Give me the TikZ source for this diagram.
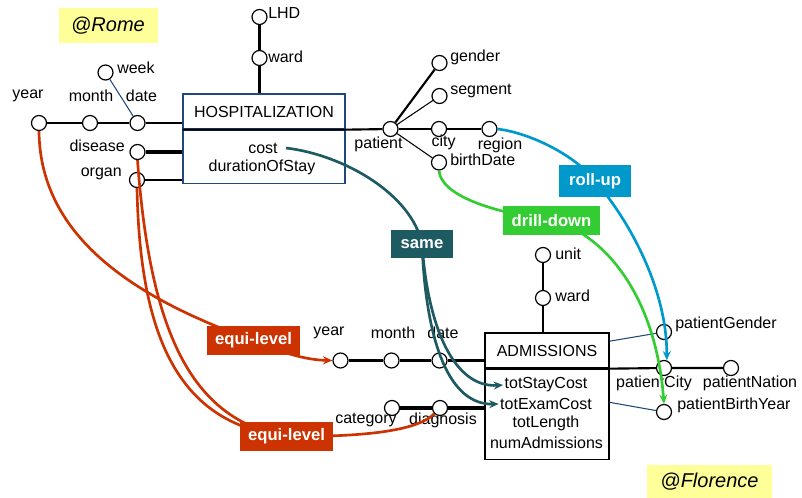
\documentclass[tikz,border=0pt]{standalone}
\usepackage{fontspec}
\setmainfont{Liberation Sans}
\usetikzlibrary{arrows.meta,positioning}
\definecolor{hospblue}{RGB}{31,73,125}
\definecolor{sameteal}{RGB}{30,90,98}
\definecolor{rollblue}{RGB}{0,153,204}
\definecolor{drillgreen}{RGB}{51,204,51}
\definecolor{equired}{RGB}{204,51,0}
\definecolor{noteyellow}{RGB}{255,255,153}
\tikzstyle{lbl} = [font=\fontsize{12}{14}\selectfont, inner sep=0pt]
\tikzstyle{attr} = [circle, draw, fill=white, line width=0.9pt, minimum size=11.25pt, inner sep=0pt]
\tikzstyle{fact} = [draw, line width=1pt, inner sep=0pt, font=\fontsize{12}{14}\selectfont]
\tikzstyle{dim} = [line width=1.6pt]
\tikzstyle{thindim} = [line width=0.8pt]
\tikzstyle{bluedim} = [line width=0.8pt, hospblue]
\tikzstyle{opbox} = [font=\bfseries\fontsize{12.5}{15}\selectfont, text=white, inner sep=0pt, minimum height=21.75pt]
\tikzstyle{opline} = [line width=2pt]
\tikzstyle{optip} = [-{Stealth[length=7pt,width=6pt]}]
\tikzstyle{note} = [fill=noteyellow, font=\itshape\fontsize{15}{18}\selectfont, inner sep=0pt]

\begin{document}
\begin{tikzpicture}[x=0.75pt, y=-0.75pt]

	\useasboundingbox (0,0) rectangle (802,498);

	\node[note, minimum width=74.25pt, minimum height=26.25pt] (rome) at (108,25.5) {@Rome};
	\node[note, minimum width=93.75pt, minimum height=24.75pt] (florence) at (709.5,481.5) {@Florence};

	\node[fact, hospblue, text=black, minimum width=121.5pt, minimum height=26.25pt] (hosp) at (264,111.5) {HOSPITALIZATION};
	\node[fact, hospblue, minimum width=121.5pt, minimum height=39.75pt, below=0pt of hosp] (hospm) {};
	\node[lbl] (cost) at (263,148) {cost};
	\node[lbl] (stay) at (262,167) {durationOfStay};

	\node[fact, minimum width=93pt, minimum height=26.25pt] (adm) at (547,350.5) {ADMISSIONS};
	\node[fact, minimum width=93pt, minimum height=67.5pt, below=0pt of adm] (admm) {};
	\node[lbl] (totstay) at (546,385) {totStayCost};
	\node[lbl] (totexam) at (546,404) {totExamCost};
	\node[lbl] (totlen) at (546,423) {totLength};
	\node[lbl] (numadm) at (546.5,443) {numAdmissions};

	\node[attr] (year) at (39,123) {};
	\node[attr] (month) at (90,123) {};
	\node[attr] (date) at (137.5,123) {};
	\node[attr] (week) at (105.5,72.5) {};
	\node[attr] (disease) at (137.5,152) {};
	\node[attr] (organ) at (137,180) {};
	\node[attr] (lhd) at (259.5,17) {};
	\node[attr] (ward) at (259.5,58) {};
	\node[attr] (patient) at (390.5,129) {};
	\node[attr] (gender) at (439.5,63) {};
	\node[attr] (segment) at (439.5,96) {};
	\node[attr] (city) at (439,129) {};
	\node[attr] (region) at (489.5,129) {};
	\node[attr] (bdate) at (439,162.5) {};

	\node[attr] (year2) at (340.5,360.5) {};
	\node[attr] (month2) at (391.5,360.5) {};
	\node[attr] (date2) at (439.5,360.5) {};
	\node[attr] (cat) at (392,408) {};
	\node[attr] (diag) at (440,408) {};
	\node[attr] (unit) at (543,255) {};
	\node[attr] (ward2) at (543,298) {};
	\node[attr] (pgender) at (664,332) {};
	\node[attr] (pcity) at (664,368) {};
	\node[attr] (pnation) at (731,368) {};
	\node[attr] (pbyear) at (664,412) {};

	\node[lbl] (tyear) at (28,96) {year};
	\node[lbl] (tmonth) at (91,96) {month};
	\node[lbl] (tdate) at (141.5,96) {date};
	\node[lbl, anchor=west] (tweek) at (117,68) {week};
	\node[lbl, anchor=east] (tdisease) at (125,146) {disease};
	\node[lbl, anchor=east] (torgan) at (122,174) {organ};
	\node[lbl, anchor=west] (tlhd) at (268,13) {LHD};
	\node[lbl, anchor=west] (tward) at (268,57) {ward};
	\node[lbl] (tpatient) at (378.5,144) {patient};
	\node[lbl, anchor=west] (tgender) at (450,57) {gender};
	\node[lbl, anchor=west] (tsegment) at (450,91) {segment};
	\node[lbl] (tcity) at (443.5,142) {city};
	\node[lbl] (tregion) at (500,145) {region};
	\node[lbl, anchor=west] (tbdate) at (450,160) {birthDate};

	\node[lbl] (tyear2) at (329,333) {year};
	\node[lbl] (tmonth2) at (393,333) {month};
	\node[lbl] (tdate2) at (443,333) {date};
	\node[lbl] (tcat) at (366,420) {category};
	\node[lbl] (tdiag) at (443,420) {diagnosis};
	\node[lbl, anchor=west] (tunit) at (555,254) {unit};
	\node[lbl, anchor=west] (tward2) at (555,296) {ward};
	\node[lbl, anchor=west] (tpgender) at (675,324) {patientGender};
	\node[lbl] (tpcity) at (654,383) {patientCity};
	\node[lbl] (tpnation) at (750,383) {patientNation};
	\node[lbl, anchor=west] (tpbyear) at (677,405) {patientBirthYear};

	\draw[dim] (year) -- (month) -- (date) -- (date -| hosp.west);
	\draw[bluedim] (week) -- (date);
	\draw[line width=2.4pt] (disease) -- (disease -| hospm.west);
	\draw[dim] (organ) -- (organ -| hospm.west);
	\draw[dim] (lhd) -- (ward) -- (ward |- hosp.north);
	\draw[dim] (hosp.south west) -- (hosp.south east) -- (patient);
	\draw[dim] (patient) -- (gender);
	\draw[thindim] (patient) -- (segment);
	\draw[dim] (patient) -- (city) -- (region);
	\draw[thindim] (patient) -- (bdate);

	\draw[dim] (year2) -- (month2) -- (date2) -- (date2 -| adm.west);
	\draw[line width=2.4pt] (cat) -- (diag) -- (diag -| admm.west);
	\draw[dim] (unit) -- (ward2) -- (ward2 |- adm.north);
	\draw[dim] (adm.south west) -- (adm.south east) -- (pcity) -- (pnation);
	\draw[bluedim] ([yshift=7pt]adm.east) -- (pgender);
	\draw[bluedim] ([yshift=9pt]admm.east) -- (pbyear);

	\coordinate (samepos) at (422,244);
	\coordinate (rollpos) at (595,181);
	\coordinate (drillpos) at (551.5,220.5);
	\coordinate (equipos) at (253.5,340.5);
	\coordinate (equiposb) at (286.5,436.5);

	\draw[opline, sameteal] ([xshift=6pt]cost.east) .. controls (345,155) and (412,195) .. (samepos);
	\draw[opline, sameteal, optip] (samepos) .. controls (428,330) and (455,388) .. ([xshift=-1pt]totstay.west);
	\draw[opline, sameteal, optip] (samepos) .. controls (426,345) and (450,405) .. ([xshift=-1pt]totexam.west);

	\draw[opline, rollblue] (region.east) .. controls (530,133) and (575,155) .. (rollpos);
	\draw[opline, rollblue, optip] (rollpos) .. controls (630,221) and (667,290) .. (pcity.70);

	\draw[opline, drillgreen] (bdate.south) .. controls (441,195) and (490,212) .. (drillpos);
	\draw[opline, drillgreen, optip] (drillpos) .. controls (600,232) and (655,290) .. (pbyear.north);

	\draw[opline, equired] (year.south) .. controls (40,240) and (140,300) .. (equipos);
	\draw[opline, equired, optip] (equipos) .. controls (280,352) and (305,360) .. (year2.west);
	\draw[opline, equired] (disease.south) .. controls (150,330) and (190,420) .. (equiposb);
	\draw[opline, equired] (organ.south) .. controls (140,340) and (180,425) .. (equiposb);
	\draw[opline, equired] (equiposb) .. controls (380,437) and (420,428) .. (diag.south west);

	\node[opbox, fill=sameteal, minimum width=46.5pt, minimum height=21pt] (same) at (samepos) {same};
	\node[opbox, fill=rollblue, minimum width=54pt, minimum height=24pt] (rollup) at (rollpos) {roll-up};
	\node[opbox, fill=drillgreen, minimum width=72.75pt] (drilldown) at (drillpos) {drill-down};
	\node[opbox, fill=equired, minimum width=69.75pt] (equilevel) at (equipos) {equi-level};
	\node[opbox, fill=equired, minimum width=69.75pt] (equilevelb) at (equiposb) {equi-level};

\end{tikzpicture}
\end{document}
